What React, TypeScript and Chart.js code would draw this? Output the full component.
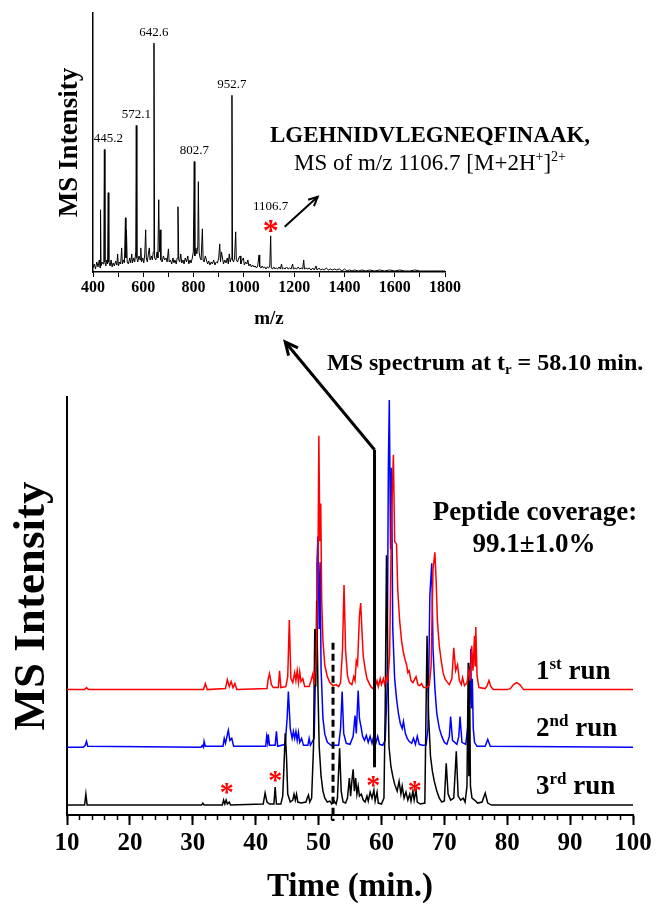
import React, { useEffect, useRef } from "react";
import { Chart, registerables } from "chart.js";

Chart.register(...registerables);

const FONT = "'Liberation Serif', 'Times New Roman', Times, serif";

// ---------------- Main chromatogram data (time in min, intensity above the run's own baseline) ----------------
const RUN1_RED: [number, number][] = [
  [10, 1], [12.8, 1], [13.1, 3], [13.4, 1], [31.7, 1], [32.0, 7], [32.3, 1], [35.2, 2], [35.5, 11], [35.8, 4],
  [36.1, 9], [36.4, 3], [36.7, 7], [37.0, 1], [41.8, 2], [42.0, 12], [42.2, 17], [42.5, 6], [42.8, 3], [43.6, 3],
  [43.8, 20], [44.0, 3], [44.8, 4], [45.1, 14], [45.35, 71], [45.6, 12], [45.9, 8], [46.2, 18], [46.4, 10], [46.6, 20],
  [46.8, 8], [47.0, 19], [47.2, 9], [47.5, 12], [47.8, 4], [48.5, 4], [48.8, 10], [49.1, 17], [49.3, 6], [49.6, 30],
  [49.9, 120], [50.05, 256], [50.2, 150], [50.35, 188], [50.5, 90], [50.7, 50], [51.0, 25], [51.4, 14], [51.8, 8],
  [52.3, 5], [52.8, 6], [53.2, 4], [53.5, 8], [53.8, 40], [54.05, 106], [54.3, 40], [54.6, 15], [54.9, 8], [55.3, 6],
  [55.6, 14], [55.8, 10], [56.0, 30], [56.2, 26], [56.5, 75], [56.7, 88], [56.9, 60], [57.1, 35], [57.4, 22],
  [57.7, 12], [58.0, 8], [58.3, 4], [58.6, 2], [59.0, 4], [59.3, 10], [59.5, 4], [59.8, 12], [60.0, 6], [60.3, 12],
  [60.5, 6], [60.8, 14], [61.0, 10], [61.3, 35], [61.6, 173], [61.9, 237], [62.1, 150], [62.4, 147], [62.6, 100],
  [62.9, 70], [63.2, 50], [63.5, 38], [63.8, 30], [64.0, 26], [64.2, 18], [64.4, 20], [64.7, 10], [65.0, 8],
  [65.5, 14], [65.8, 6], [66.1, 5], [66.4, 7], [66.7, 3], [67.2, 3], [67.6, 5], [67.9, 25], [68.2, 122], [68.5, 139],
  [68.7, 110], [68.9, 70], [69.2, 45], [69.5, 30], [69.8, 18], [70.1, 12], [70.4, 9], [70.8, 6], [71.2, 12],
  [71.5, 43], [71.8, 20], [72.1, 26], [72.4, 10], [72.7, 6], [72.9, 13], [73.2, 5], [73.6, 8], [73.9, 20], [74.1, 10],
  [74.35, 45], [74.55, 20], [74.8, 55], [74.9, 25], [75.0, 64], [75.2, 15], [75.5, 3], [76.5, 2], [76.8, 5],
  [77.1, 10], [77.4, 4], [77.8, 1], [80.0, 1], [80.5, 2], [81.0, 6], [81.5, 8], [82.0, 6], [82.6, 1], [100, 1],
];

const RUN2_BLUE: [number, number][] = [
  [10, 1], [12.6, 1], [12.9, 3], [13.1, 7], [13.3, 2], [31.3, 1], [31.5, 3], [31.7, 1], [31.8, 7], [32.0, 2],
  [34.8, 2], [35.0, 10], [35.2, 5], [35.65, 18], [35.9, 8], [36.2, 10], [36.5, 2], [41.6, 2], [41.75, 12], [41.9, 6],
  [42.0, 14], [42.2, 3], [43.1, 3], [43.3, 17], [43.5, 2], [44.7, 4], [45.0, 30], [45.2, 57], [45.5, 20], [45.8, 10],
  [46.0, 17], [46.2, 10], [46.4, 17], [46.6, 8], [46.8, 16], [47.0, 6], [47.3, 10], [47.6, 3], [48.3, 3], [48.5, 10],
  [48.7, 3], [49.3, 10], [49.6, 100], [49.75, 186], [49.9, 213], [50.1, 120], [50.25, 187], [50.4, 80], [50.7, 30],
  [51.0, 14], [51.4, 6], [52.0, 3], [53.2, 3], [53.5, 20], [53.75, 57], [54.0, 15], [54.4, 5], [55.0, 4], [55.5, 12],
  [55.8, 33], [56.0, 15], [56.3, 58], [56.5, 30], [56.8, 20], [57.0, 12], [57.3, 8], [57.6, 13], [57.9, 6],
  [58.2, 12], [58.5, 5], [58.8, 13], [59.1, 5], [59.4, 12], [59.7, 4], [60.2, 3], [60.6, 8], [60.9, 60], [61.1, 282],
  [61.25, 350], [61.45, 200], [61.6, 282], [61.8, 120], [62.1, 70], [62.4, 50], [62.7, 35], [63.0, 25], [63.3, 20],
  [63.5, 27], [63.8, 15], [64.1, 10], [64.4, 7], [64.8, 5], [65.1, 10], [65.4, 4], [65.7, 12], [66.0, 4], [66.5, 3],
  [67.1, 3], [67.4, 20], [67.7, 154], [68.0, 186], [68.2, 100], [68.5, 60], [68.8, 35], [69.2, 20], [69.6, 12],
  [70.0, 6], [70.4, 4], [70.8, 12], [71.0, 32], [71.3, 8], [72.0, 4], [72.3, 12], [72.5, 32], [72.8, 6], [73.4, 4],
  [73.7, 20], [73.9, 30], [74.1, 60], [74.2, 100], [74.3, 40], [74.45, 70], [74.6, 20], [74.8, 6], [75.2, 2],
  [76.5, 2], [76.9, 9], [77.3, 2], [100, 1],
];

const RUN3_BLACK: [number, number][] = [
  [10, 1], [12.8, 1], [13.0, 12], [13.2, 1], [31.4, 1], [31.6, 3], [31.8, 1], [34.7, 1], [34.9, 6], [35.1, 2],
  [35.3, 6], [35.5, 2], [35.8, 4], [36.0, 1], [41.2, 2], [41.5, 13], [41.8, 4], [42.2, 2], [42.9, 2], [43.1, 19],
  [43.3, 2], [44.0, 2], [44.3, 10], [44.5, 40], [44.7, 73], [44.9, 50], [45.1, 12], [45.5, 4], [45.9, 6], [46.1, 12],
  [46.3, 6], [46.5, 12], [46.7, 4], [47.2, 3], [48.0, 4], [48.2, 8], [48.4, 11], [48.6, 4], [48.9, 8], [49.2, 60],
  [49.4, 178], [49.55, 120], [49.7, 206], [49.9, 120], [50.1, 60], [50.4, 30], [50.7, 15], [51.0, 8], [51.4, 4],
  [51.8, 5], [52.1, 2], [52.5, 5], [52.8, 2], [53.0, 8], [53.35, 58], [53.6, 15], [53.9, 4], [54.3, 3], [54.6, 8],
  [54.9, 28], [55.1, 10], [55.3, 25], [55.5, 37], [55.7, 15], [55.9, 28], [56.1, 12], [56.3, 20], [56.5, 10],
  [56.8, 12], [57.1, 6], [57.4, 4], [57.7, 10], [57.9, 5], [58.2, 14], [58.5, 8], [58.8, 16], [59.0, 5], [59.3, 14],
  [59.5, 3], [60.0, 2], [60.4, 8], [60.6, 100], [60.8, 252], [61.0, 150], [61.2, 60], [61.5, 40], [61.8, 30],
  [62.1, 22], [62.5, 15], [62.8, 25], [63.1, 12], [63.3, 20], [63.6, 8], [63.9, 14], [64.2, 6], [64.5, 12], [64.7, 5],
  [65.0, 15], [65.2, 6], [65.5, 16], [65.7, 4], [66.2, 2], [66.9, 3], [67.1, 100], [67.25, 171], [67.5, 90],
  [67.8, 50], [68.1, 35], [68.4, 25], [68.8, 15], [69.2, 8], [69.6, 4], [70.0, 5], [70.3, 43], [70.6, 12], [71.0, 6],
  [71.5, 8], [71.9, 55], [72.2, 10], [72.6, 6], [73.0, 8], [73.3, 4], [73.6, 20], [73.8, 144], [73.9, 30], [74.0, 140],
  [74.15, 20], [74.4, 8], [74.8, 6], [75.3, 3], [76.0, 4], [76.5, 13], [76.9, 3], [77.5, 1], [100, 1],
];

const RUN_COLORS = ["#ff0000", "#0000ff", "#000000"];
const RUN_OFFSETS = [125, 67, 9];
const RUN_ORDINALS: [string, string][] = [["1", "st"], ["2", "nd"], ["3", "rd"]];

const TIME_MIN = 10;
const TIME_MAX = 100;
const TIME_MAJOR_STEP = 10;
const TIME_MINOR_STEP = 2;
const INTENSITY_MAX = 420;

// red asterisks above the 3rd run: [time, level]
const MARK_TIMES = [35.4, 43.1, 58.7, 65.3];
const MARK_LEVELS = [28, 40, 35, 30];

const SPECTRUM_LINE_TIME = 58.9; // drawn position of the t_r marker
const SPECTRUM_LINE_SPAN = [48, 367];
const DASHED_TIME = 52.3;
const DASHED_TOP = 173;
const ARROW_TIP_TIME = 44.7;

// ---------------- Inset MS spectrum (m/z, intensity) ----------------
const SPECTRUM: [number, number][] = [
  [400, 4], [405, 8], [410, 3], [415, 10], [420, 5], [425, 12], [428, 4], [430, 62], [432, 6], [436, 10], [440, 8],
  [443, 14], [445.2, 122], [447.5, 10], [451, 6], [455, 12], [458, 8], [460.5, 79], [463, 10], [468, 6], [472, 12],
  [476, 5], [480, 9], [485, 6], [490, 11], [495, 7], [498, 18], [501, 6], [506, 10], [510, 8], [514, 24], [517, 8],
  [521, 12], [525, 9], [529, 54], [531, 14], [533, 42], [536, 10], [541, 8], [546, 14], [550, 9], [554, 18], [557, 9],
  [562, 14], [566, 10], [570, 20], [572.1, 146], [574.5, 14], [578, 10], [583, 16], [587, 12], [590, 24], [593, 10],
  [598, 14], [602, 9], [606, 18], [609.5, 42], [612, 14], [616, 10], [620, 18], [624, 24], [627, 12], [632, 16],
  [636, 12], [640, 20], [642.6, 228], [645, 14], [650, 12], [655, 20], [658, 14], [661.5, 72], [664, 20], [667, 42],
  [670, 12], [675, 10], [680, 16], [685, 12], [690, 14], [695, 10], [700, 23], [703, 10], [708, 12], [713, 8],
  [718, 14], [722, 9], [726, 12], [731, 8], [735, 14], [738, 65], [741, 12], [745, 10], [749, 18], [753, 9], [758, 12],
  [762, 8], [767, 14], [772, 10], [777, 16], [781, 8], [786, 12], [790, 9], [795, 14], [799, 20], [802.7, 110],
  [805, 16], [809, 24], [813, 18], [817, 26], [819, 90], [822, 20], [826, 14], [830, 12], [835, 43], [838, 12],
  [842, 10], [847, 16], [851, 12], [856, 8], [860, 11], [865, 7], [870, 10], [875, 8], [880, 12], [885, 7], [890, 10],
  [895, 9], [900, 14], [904, 28], [907, 10], [911, 20], [915, 14], [919, 8], [924, 12], [929, 9], [934, 14], [938, 8],
  [942, 18], [946, 10], [950, 14], [952.7, 176], [955, 12], [959, 10], [963, 14], [967.5, 40], [970, 12], [975, 10],
  [980, 14], [985, 16], [988, 8], [993, 12], [998, 14], [1002, 7], [1007, 10], [1012, 8], [1016, 12], [1020, 6],
  [1025, 8], [1030, 5], [1035, 7], [1040, 5], [1045, 6], [1050, 4], [1055, 6], [1060.5, 17], [1063, 5], [1068, 4],
  [1073, 6], [1078, 4], [1083, 5], [1088, 3], [1093, 5], [1098, 4], [1103, 6], [1106.7, 36], [1109, 4], [1114, 3],
  [1119, 5], [1124, 3], [1129, 4], [1134, 3], [1140, 5], [1145, 3], [1150, 8], [1153, 3], [1158, 4], [1164, 3],
  [1170, 5], [1176, 3], [1182, 4], [1188, 3], [1194, 8], [1197, 3], [1203, 4], [1210, 3], [1216, 5], [1222, 3],
  [1228, 4], [1234, 3], [1238, 12], [1241, 3], [1247, 4], [1254, 3], [1260, 4], [1267, 2], [1274, 4], [1280, 2],
  [1287, 6], [1291, 2], [1298, 4], [1305, 2], [1312, 3], [1320, 2], [1328, 4], [1336, 2], [1344, 3], [1352, 2],
  [1360, 3], [1370, 2], [1380, 3], [1390, 1], [1400, 3], [1410, 1], [1420, 2], [1430, 1], [1440, 2], [1455, 1],
  [1470, 2], [1485, 1], [1500, 2], [1520, 1], [1540, 2], [1560, 1], [1580, 2], [1600, 1], [1620, 2], [1640, 1],
  [1660, 1], [1680, 2], [1700, 1], [1720, 1], [1740, 1], [1760, 1], [1780, 1], [1800, 1],
];
const LABELLED_MZ = [445.2, 572.1, 642.6, 802.7, 952.7, 1106.7];
const PRECURSOR_MZ = 1106.7;
const MZ_MIN = 400;
const MZ_MAX = 1800;
const MZ_STEP = 100;
const MZ_LABEL_STEP = 200;
const SPEC_MAX = 258;

// ---------------- helpers ----------------
type Part = { t: string; size: number; weight?: string; dy?: number };

function drawParts(ctx: CanvasRenderingContext2D, parts: Part[], x: number, y: number, align: "left" | "center") {
  let total = 0;
  const widths: number[] = [];
  for (const p of parts) {
    ctx.font = `${p.weight || "bold"} ${p.size}px ${FONT}`;
    const w = ctx.measureText(p.t).width;
    widths.push(w);
    total += w;
  }
  let cx = align === "center" ? x - total / 2 : x;
  ctx.textAlign = "left";
  ctx.textBaseline = "alphabetic";
  parts.forEach((p, i) => {
    ctx.font = `${p.weight || "bold"} ${p.size}px ${FONT}`;
    ctx.fillText(p.t, cx, y + (p.dy || 0));
    cx += widths[i];
  });
}

function arrow(ctx: CanvasRenderingContext2D, x0: number, y0: number, x1: number, y1: number, w: number, head: number) {
  ctx.lineWidth = w;
  ctx.lineCap = "butt";
  ctx.beginPath();
  ctx.moveTo(x0, y0);
  ctx.lineTo(x1, y1);
  ctx.stroke();
  const a = Math.atan2(y1 - y0, x1 - x0);
  ctx.beginPath();
  ctx.moveTo(x1 - head * Math.cos(a - 0.45), y1 - head * Math.sin(a - 0.45));
  ctx.lineTo(x1, y1);
  ctx.lineTo(x1 - head * Math.cos(a + 0.45), y1 - head * Math.sin(a + 0.45));
  ctx.stroke();
}

function asterisk(ctx: CanvasRenderingContext2D, x: number, cy: number, size: number) {
  ctx.fillStyle = "#ff0000";
  ctx.font = `bold ${size}px ${FONT}`;
  ctx.textAlign = "center";
  ctx.textBaseline = "alphabetic";
  ctx.fillText("*", x, cy + size * 0.5);
}

const mainAnnotations = {
  id: "mainAnnotations",
  afterDatasetsDraw(chart: any) {
    const { ctx, chartArea } = chart;
    const x = chart.scales.x;
    const y = chart.scales.y;
    ctx.save();
    ctx.strokeStyle = "#000";
    ctx.fillStyle = "#000";

    // dashed marker
    const xd = x.getPixelForValue(DASHED_TIME);
    ctx.setLineDash([7, 4]);
    ctx.lineWidth = 3;
    ctx.beginPath();
    ctx.moveTo(xd, y.getPixelForValue(DASHED_TOP));
    ctx.lineTo(xd, y.getPixelForValue(0) + 6);
    ctx.stroke();
    ctx.setLineDash([]);

    // t_r marker with arrow to the inset
    const xs = x.getPixelForValue(SPECTRUM_LINE_TIME);
    const yTop = y.getPixelForValue(SPECTRUM_LINE_SPAN[1]);
    ctx.lineWidth = 3;
    ctx.lineJoin = "miter";
    ctx.beginPath();
    ctx.moveTo(xs, y.getPixelForValue(SPECTRUM_LINE_SPAN[0]));
    ctx.lineTo(xs, yTop);
    ctx.stroke();
    arrow(ctx, xs, yTop, x.getPixelForValue(ARROW_TIP_TIME), chartArea.top - 55, 3, 14);

    // asterisks over the 3rd run
    MARK_TIMES.forEach((t, i) => asterisk(ctx, x.getPixelForValue(t), y.getPixelForValue(MARK_LEVELS[i]), 28));

    ctx.fillStyle = "#000";
    // MS spectrum label
    drawParts(ctx, [
      { t: "MS spectrum at t", size: 24 },
      { t: "r", size: 15, dy: 4 },
      { t: " = 58.10 min.", size: 24 },
    ], 327, 370, "left");

    // coverage
    drawParts(ctx, [{ t: "Peptide coverage:", size: 27 }], 535, 520, "center");
    drawParts(ctx, [{ t: "99.1\u00b11.0%", size: 27 }], 534, 552, "center");

    // run labels
    RUN_ORDINALS.forEach(([n, s], i) => {
      const base = y.getPixelForValue(RUN_OFFSETS[i]) - 12;
      drawParts(ctx, [
        { t: n, size: 27 },
        { t: s, size: 17, dy: -10 },
        { t: " run", size: 27 },
      ], 536, base, "left");
    });

    // peptide text beside the inset
    drawParts(ctx, [{ t: "LGEHNIDVLEGNEQFINAAK,", size: 23 }], 430, 142, "center");
    drawParts(ctx, [
      { t: "MS of m/z 1106.7 [M+2H", size: 23, weight: "normal" },
      { t: "+", size: 14, weight: "normal", dy: -9 },
      { t: "]", size: 23, weight: "normal" },
      { t: "2+", size: 14, weight: "normal", dy: -9 },
    ], 430, 170, "center");
    ctx.restore();
  },
};

const insetAnnotations = {
  id: "insetAnnotations",
  afterDatasetsDraw(chart: any) {
    const { ctx } = chart;
    const x = chart.scales.x;
    const y = chart.scales.y;
    ctx.save();
    ctx.fillStyle = "#000";
    ctx.font = `normal 13px ${FONT}`;
    ctx.textAlign = "center";
    ctx.textBaseline = "middle";
    LABELLED_MZ.forEach((mz) => {
      const pt = SPECTRUM.find((p) => p[0] === mz);
      if (!pt) return;
      const px = x.getPixelForValue(mz);
      const py = y.getPixelForValue(pt[1]);
      const lift = mz === PRECURSOR_MZ ? 29 : 11;
      ctx.fillText(String(mz), px + (mz === 445.2 ? 4 : 0), py - lift);
    });
    const pre = SPECTRUM.find((p) => p[0] === PRECURSOR_MZ)!;
    const ppx = x.getPixelForValue(PRECURSOR_MZ);
    const ppy = y.getPixelForValue(pre[1]);
    asterisk(ctx, ppx, ppy - 11, 32);
    ctx.strokeStyle = "#000";
    arrow(ctx, ppx + 14, ppy - 9, ppx + 47, ppy - 39, 2, 10);
    ctx.restore();
  },
};

export default function App() {
  const mainRef = useRef<HTMLCanvasElement>(null);
  const insetRef = useRef<HTMLCanvasElement>(null);

  useEffect(() => {
    const runs = [RUN1_RED, RUN2_BLUE, RUN3_BLACK];
    const datasets = [0, 2, 1].map((i) => ({
      label: `run ${i + 1}`,
      data: runs[i].map(([t, v]) => ({ x: t, y: v + RUN_OFFSETS[i] })),
      borderColor: RUN_COLORS[i],
      borderWidth: 1.5,
      pointRadius: 0,
      tension: 0,
      fill: false,
    }));

    const main = new Chart(mainRef.current as HTMLCanvasElement, {
      type: "line",
      data: { datasets },
      options: {
        responsive: false,
        animation: false,
        events: [],
        layout: { padding: { top: 397, right: 24, left: 0, bottom: 0 } },
        plugins: { legend: { display: false }, tooltip: { enabled: false } },
        scales: {
          xMinor: {
            type: "linear",
            position: "bottom",
            weight: 0,
            min: TIME_MIN,
            max: TIME_MAX,
            ticks: { display: false, stepSize: TIME_MINOR_STEP },
            grid: { drawOnChartArea: false, drawTicks: true, tickLength: 5, tickWidth: 1.5, tickColor: "#000" },
            border: { display: false },
            afterFit: (s: any) => { s.height = 0; },
          },
          x: {
            type: "linear",
            position: "bottom",
            weight: 1,
            min: TIME_MIN,
            max: TIME_MAX,
            ticks: {
              stepSize: TIME_MAJOR_STEP,
              autoSkip: false,
              maxRotation: 0,
              padding: 4,
              color: "#000",
              font: { family: FONT, size: 25, weight: "bold" },
            },
            grid: { drawOnChartArea: false, drawTicks: true, tickLength: 10, tickWidth: 2, tickColor: "#000" },
            border: { display: true, color: "#000", width: 2 },
            title: {
              display: true,
              text: "Time (min.)",
              color: "#000",
              font: { family: FONT, size: 33, weight: "bold" },
              padding: { top: 0, bottom: 0 },
            },
            afterFit: (s: any) => { s.height = 92; },
          },
          y: {
            type: "linear",
            min: 0,
            max: INTENSITY_MAX,
            ticks: { display: false },
            grid: { display: false },
            border: { display: true, color: "#000", width: 2 },
            title: {
              display: true,
              text: "MS Intensity",
              color: "#000",
              font: { family: FONT, size: 45, weight: "bold" },
              padding: { top: 5, bottom: 0 },
            },
            afterFit: (s: any) => { s.width = 67; },
          },
        },
      } as any,
      plugins: [mainAnnotations],
    });

    const inset = new Chart(insetRef.current as HTMLCanvasElement, {
      type: "line",
      data: {
        datasets: [
          {
            label: "MS spectrum",
            data: SPECTRUM.map(([mz, v]) => ({ x: mz, y: v })),
            borderColor: "#000",
            borderWidth: 1,
            pointRadius: 0,
            tension: 0,
            fill: false,
          },
        ],
      },
      options: {
        responsive: false,
        animation: false,
        events: [],
        layout: { padding: { top: 13, right: 25, left: 0, bottom: 0 } },
        plugins: { legend: { display: false }, tooltip: { enabled: false } },
        scales: {
          x: {
            type: "linear",
            min: MZ_MIN,
            max: MZ_MAX,
            ticks: {
              stepSize: MZ_STEP,
              autoSkip: false,
              maxRotation: 0,
              padding: 1,
              color: "#000",
              font: { family: FONT, size: 16, weight: "bold" },
              callback: (v: any) => (Number(v) % MZ_LABEL_STEP === 0 ? String(v) : ""),
            },
            grid: { drawOnChartArea: false, drawTicks: true, tickLength: 5, tickWidth: 1, tickColor: "#000" },
            border: { display: true, color: "#000", width: 1.5 },
            title: {
              display: true,
              text: "m/z",
              color: "#000",
              font: { family: FONT, size: 19, weight: "bold" },
              padding: { top: 0, bottom: 0 },
            },
            afterFit: (s: any) => { s.height = 58; },
          },
          y: {
            type: "linear",
            min: 0,
            max: SPEC_MAX,
            ticks: { display: false },
            grid: { display: false },
            border: { display: true, color: "#000", width: 1.5 },
            title: {
              display: true,
              text: "MS Intensity",
              color: "#000",
              font: { family: FONT, size: 27, weight: "bold" },
              padding: { top: 54, bottom: 0 },
            },
            afterFit: (s: any) => { s.width = 93; },
          },
        },
      } as any,
      plugins: [insetAnnotations],
    });

    return () => {
      main.destroy();
      inset.destroy();
    };
  }, []);

  return (
    <div style={{ position: "fixed", left: 0, top: 0, width: 657, height: 907, background: "#fff" }}>
      <canvas
        ref={mainRef}
        width={657}
        height={907}
        style={{ position: "absolute", left: 0, top: 0, width: 657, height: 907 }}
      />
      <canvas
        ref={insetRef}
        width={470}
        height={330}
        style={{ position: "absolute", left: 0, top: 0, width: 470, height: 330 }}
      />
    </div>
  );
}
